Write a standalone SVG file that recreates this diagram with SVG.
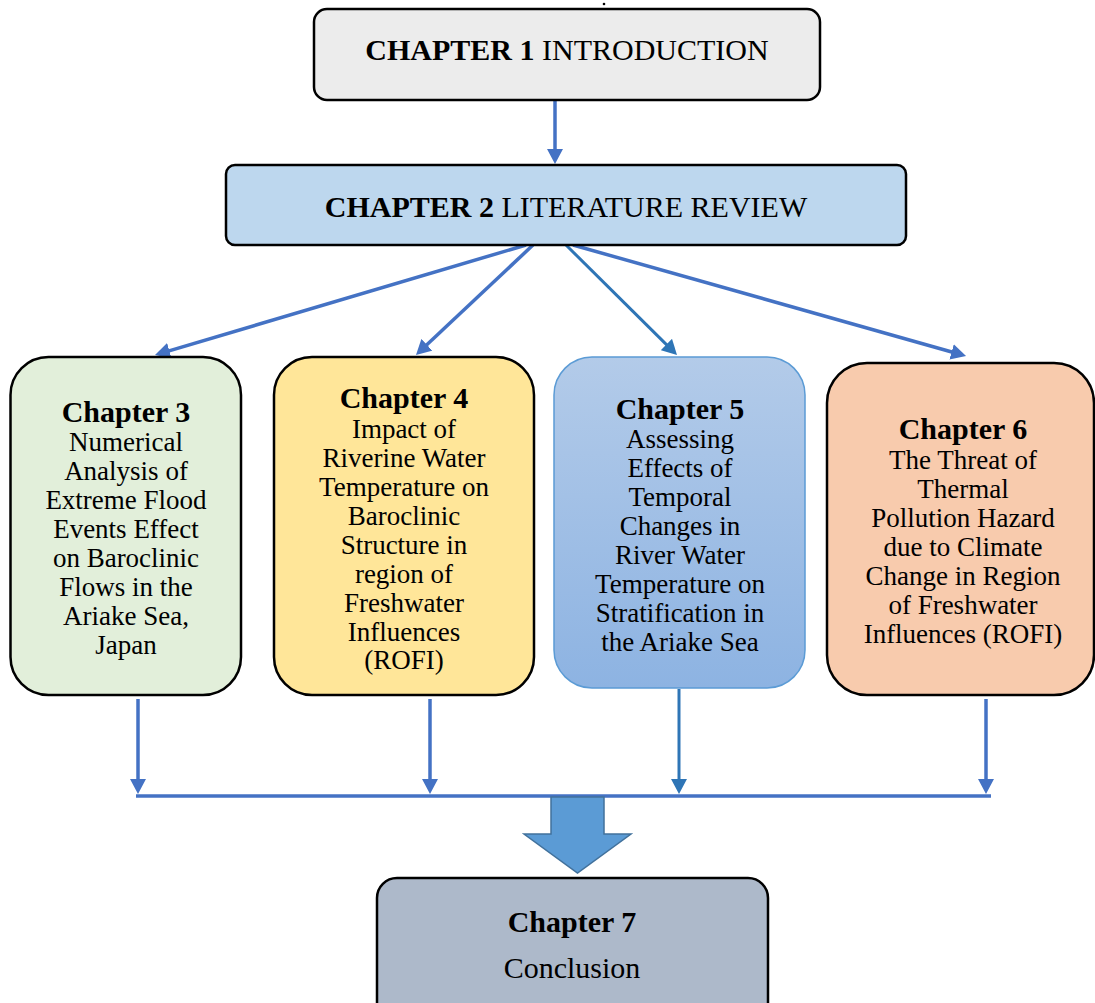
<svg xmlns="http://www.w3.org/2000/svg" width="1095" height="1003" viewBox="0 0 1095 1003">
<style>
.box{stroke:#000;stroke-width:2.5}
.t{font-family:"Liberation Serif","Times New Roman",serif;fill:#000;text-anchor:middle}
.b{font-weight:bold}
.body{font-size:27px}
.head{font-size:30px;font-weight:bold}
.con{stroke:#4472c4;stroke-width:3.5;fill:none}
.con5{stroke:#2e75b6;stroke-width:3;fill:none}
</style>
<defs>
<marker id="ah" viewBox="0 0 15 16" markerWidth="15" markerHeight="16" refX="3" refY="8" orient="auto" markerUnits="userSpaceOnUse">
<path d="M0,0 L15,8 L0,16 z" fill="#4472c4"/>
</marker>
<marker id="ah5" viewBox="0 0 15 16" markerWidth="15" markerHeight="16" refX="3" refY="8" orient="auto" markerUnits="userSpaceOnUse">
<path d="M0,0 L15,8 L0,16 z" fill="#2e75b6"/>
</marker>
<linearGradient id="g5" x1="0" y1="0" x2="0" y2="1">
<stop offset="0" stop-color="#b3cbe9"/>
<stop offset="1" stop-color="#8db3e2"/>
</linearGradient>
</defs>
<rect width="1095" height="1003" fill="#fff"/>
<circle cx="604" cy="4" r="1.3" fill="#000"/>

<g id="connectors">
<line class="con" x1="555" y1="100" x2="555" y2="152" marker-end="url(#ah)"/>
<line class="con" x1="526" y1="245" x2="166.5" y2="351.6" marker-end="url(#ah)"/>
<line class="con" x1="533" y1="245" x2="424.7" y2="346.8" marker-end="url(#ah)"/>
<line class="con5" x1="566" y1="245" x2="668.5" y2="346.6" marker-end="url(#ah5)"/>
<line class="con" x1="573" y1="245" x2="954.5" y2="352.7" marker-end="url(#ah)"/>
<line class="con" x1="138" y1="699" x2="138" y2="782" marker-end="url(#ah)"/>
<line class="con" x1="430" y1="699" x2="430" y2="782" marker-end="url(#ah)"/>
<line class="con5" x1="679" y1="689" x2="679" y2="782" marker-end="url(#ah5)"/>
<line class="con" x1="986" y1="699" x2="986" y2="782" marker-end="url(#ah)"/>
<line class="con" x1="136" y1="796" x2="991" y2="796"/>
<path d="M551,797 L604,797 L604,834 L631,834 L577.5,873 L524,834 L551,834 z" fill="#5b9bd5" stroke="#41719c" stroke-width="1.5"/>
</g>

<g id="ch1">
<rect class="box" x="314" y="9" width="506" height="91" rx="13" fill="#ececec"/>
<text class="t" x="567" y="60" font-size="30"><tspan class="b">CHAPTER 1</tspan> INTRODUCTION</text>
</g>

<g id="ch2">
<rect class="box" x="226" y="165" width="680" height="80" rx="9" fill="#bdd7ee"/>
<text class="t" x="566" y="217" font-size="30"><tspan class="b">CHAPTER 2</tspan> LITERATURE REVIEW</text>
</g>

<g id="ch3">
<rect class="box" x="10.5" y="357" width="230.5" height="338" rx="38" fill="#e2efda"/>
<text class="t head" x="126" y="422">Chapter 3</text>
<text class="t body" x="126" y="451">Numerical</text>
<text class="t body" x="126" y="480">Analysis of</text>
<text class="t body" x="126" y="509">Extreme Flood</text>
<text class="t body" x="126" y="538">Events Effect</text>
<text class="t body" x="126" y="567">on Baroclinic</text>
<text class="t body" x="126" y="596">Flows in the</text>
<text class="t body" x="126" y="625">Ariake Sea,</text>
<text class="t body" x="126" y="654">Japan</text>
</g>

<g id="ch4">
<rect class="box" x="274" y="357" width="260" height="338" rx="38" fill="#ffe699"/>
<text class="t head" x="404" y="408">Chapter 4</text>
<text class="t body" x="404" y="438">Impact of</text>
<text class="t body" x="404" y="467">Riverine Water</text>
<text class="t body" x="404" y="496">Temperature on</text>
<text class="t body" x="404" y="525">Baroclinic</text>
<text class="t body" x="404" y="554">Structure in</text>
<text class="t body" x="404" y="583">region of</text>
<text class="t body" x="404" y="612">Freshwater</text>
<text class="t body" x="404" y="641">Influences</text>
<text class="t body" x="404" y="669">(ROFI)</text>
</g>

<g id="ch5">
<rect x="554" y="357" width="251" height="331" rx="38" fill="url(#g5)" stroke="#5b9bd5" stroke-width="1.5"/>
<text class="t head" x="680" y="419">Chapter 5</text>
<text class="t body" x="680" y="448">Assessing</text>
<text class="t body" x="680" y="477">Effects of</text>
<text class="t body" x="680" y="506">Temporal</text>
<text class="t body" x="680" y="535">Changes in</text>
<text class="t body" x="680" y="564">River Water</text>
<text class="t body" x="680" y="593">Temperature on</text>
<text class="t body" x="680" y="622">Stratification in</text>
<text class="t body" x="680" y="651">the Ariake Sea</text>
</g>

<g id="ch6">
<rect class="box" x="827" y="363" width="267" height="332" rx="40" fill="#f8cbad"/>
<text class="t head" x="963" y="439">Chapter 6</text>
<text class="t body" x="963" y="469">The Threat of</text>
<text class="t body" x="963" y="498">Thermal</text>
<text class="t body" x="963" y="527">Pollution Hazard</text>
<text class="t body" x="963" y="556">due to Climate</text>
<text class="t body" x="963" y="585">Change in Region</text>
<text class="t body" x="963" y="614">of Freshwater</text>
<text class="t body" x="963" y="643">Influences (ROFI)</text>
</g>

<g id="ch7">
<rect class="box" x="377" y="878" width="391" height="145" rx="20" fill="#adb9ca"/>
<text class="t head" x="572" y="932">Chapter 7</text>
<text class="t" x="572" y="978" font-size="30">Conclusion</text>
</g>
</svg>
